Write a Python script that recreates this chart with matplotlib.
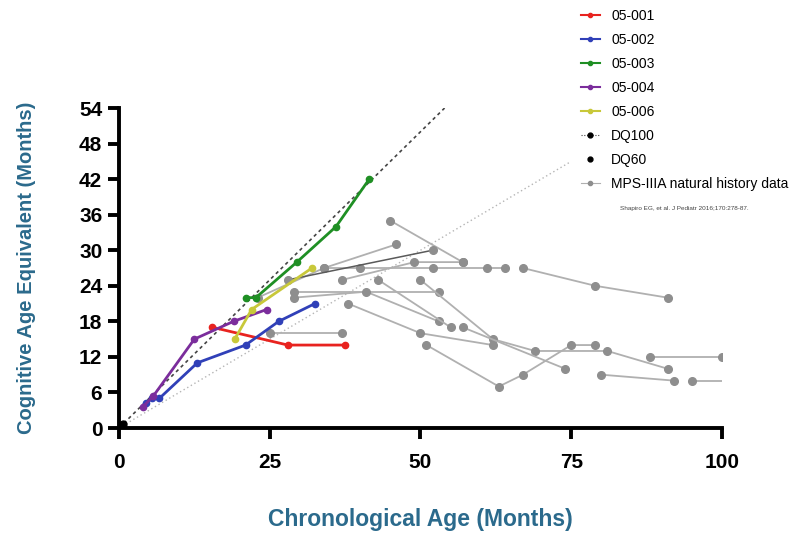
"""Cognitive age equivalent vs chronological age, MPS-IIIA patients vs natural history."""

import matplotlib
matplotlib.use("Agg")
import matplotlib.pyplot as plt
from matplotlib.lines import Line2D

plt.rcParams["font.family"] = ["Liberation Sans", "DejaVu Sans"]

# ── treated patients (chronological age, cognitive age equivalent) ─────────────
p001_x = [15.5, 28, 37.5]
p001_y = [17, 14, 14]
p002_x = [4.5, 5.5, 6.7, 13, 21, 26.5, 32.5]
p002_y = [4.3, 5.0, 5.0, 11, 14, 18, 21]
p003_x = [21, 22.7, 29.5, 36, 41.5]
p003_y = [22, 22, 28, 34, 42]
p004_x = [4, 5.7, 12.5, 19, 24.5]
p004_y = [3.6, 5.4, 15, 18, 20]
p006_x = [19.2, 22, 32]
p006_y = [15, 20, 27]

# ── reference lines ───────────────────────────────────────────────────────────
dq100_x = [0, 54]
dq100_y = [0, 54]
dq60_x = [0, 75]
dq60_y = [0, 45]

# ── MPS-IIIA natural history (one list pair per subject) ──────────────────────
nh_x = [
    [45, 57],
    [23, 34, 46],
    [37, 49, 57],
    [34, 40, 52, 61, 64],
    [67, 79, 91],
    [29, 53],
    [29, 41, 53],
    [43, 55],
    [50, 62, 69, 81, 91],
    [38, 50, 62],
    [51, 63, 67, 75, 79],
    [57, 74],
    [25, 37],
    [88, 100],
    [80, 92],
    [95, 100],
]
nh_y = [
    [35, 28],
    [22, 27, 31],
    [25, 28, 28],
    [27, 27, 27, 27, 27],
    [27, 24, 22],
    [23, 23],
    [22, 23, 18],
    [25, 17],
    [25, 15, 13, 13, 10],
    [21, 16, 14],
    [14, 7, 9, 14, 14],
    [17, 10],
    [16, 16],
    [12, 12],
    [9, 8],
    [8, 8],
]
# last subject's final visit has no marker drawn
nh_open_end = 15
# the darker grey subject
nh_dark_x = [28, 52]
nh_dark_y = [25, 30]

patients = [
    ("05-001", p001_x, p001_y, "#e8231f"),
    ("05-002", p002_x, p002_y, "#3040b8"),
    ("05-003", p003_x, p003_y, "#1f8f24"),
    ("05-004", p004_x, p004_y, "#7b2d9c"),
    ("05-006", p006_x, p006_y, "#c8c83a"),
]

fig = plt.figure(figsize=(7.91, 5.35), dpi=100)
ax = fig.add_axes([0.1504, 0.2, 0.7623, 0.598])

grey_line = "#b0b0b0"
grey_mark = "#8e8e8e"

# reference lines
ax.plot(dq60_x, dq60_y, color="#b5b5b5", lw=1.0, ls=(0, (1, 2)), zorder=1)
ax.plot(dq100_x, dq100_y, color="#444444", lw=1.2, ls=(0, (2, 2)), zorder=1)
ax.plot([0.6], [0.6], "o", color="black", ms=5, zorder=6, clip_on=False)

# natural history
for i, (xs, ys) in enumerate(zip(nh_x, nh_y)):
    n = len(xs) - 1 if i == nh_open_end else len(xs)
    ax.plot(xs, ys, color=grey_line, lw=1.3, zorder=2)
    ax.plot(xs[:n], ys[:n], "o", color=grey_mark, ms=5.5, zorder=2)
ax.plot(nh_dark_x, nh_dark_y, color="#5a5a5a", lw=1.1, zorder=2)
ax.plot(nh_dark_x, nh_dark_y, "o", color=grey_mark, ms=5.5, zorder=2)

# treated patients
for label, xs, ys, c in patients:
    ax.plot(xs, ys, "-o", color=c, lw=2.0, ms=4.5, zorder=4)

ax.set_xlim(0, 100)
ax.set_ylim(0, 54)
ax.set_xticks([0, 25, 50, 75, 100])
ax.set_yticks(range(0, 55, 6))
for s in ("top", "right"):
    ax.spines[s].set_visible(False)
for s in ("left", "bottom"):
    ax.spines[s].set_linewidth(2.8)
ax.tick_params(width=2.8, length=8, labelsize=15, pad=4)
ax.tick_params(axis="x", pad=10)
for t in ax.get_xticklabels() + ax.get_yticklabels():
    t.set_fontweight("bold")

lab_color = "#2b6a8c"
ax.set_xlabel("Chronological Age (Months)", fontsize=16.5, fontweight="bold",
              color=lab_color, labelpad=26)
ax.set_ylabel("Cognitive Age Equivalent (Months)", fontsize=14.5, fontweight="bold",
              color=lab_color, labelpad=31)

# legend outside, top right
handles = [Line2D([], [], color=c, lw=1.5, marker="o", ms=3) for _, _, _, c in patients]
handles += [
    Line2D([], [], color="#444444", lw=0.8, ls=(0, (1, 1.5)), marker="o", ms=3.5, mfc="black", mec="black"),
    Line2D([], [], color="none", marker="o", ms=3.5, mfc="black", mec="black"),
    Line2D([], [], color=grey_line, lw=0.8, marker="o", ms=3, mfc=grey_mark, mec=grey_mark),
]
labels = [p[0] for p in patients] + ["DQ100", "DQ60", "MPS-IIIA natural history data"]
fig.legend(handles, labels, loc="upper left", bbox_to_anchor=(0.7225, 1.0),
           frameon=False, fontsize=10, handlelength=1.4, handletextpad=0.8,
           labelspacing=0.72, borderaxespad=0.25)

fig.text(0.784, 0.607, "Shapiro EG, et al. J Pediatr 2016;170:278-87.",
         fontsize=4.6, color="#444444")

fig.savefig("out.png", dpi=100)
